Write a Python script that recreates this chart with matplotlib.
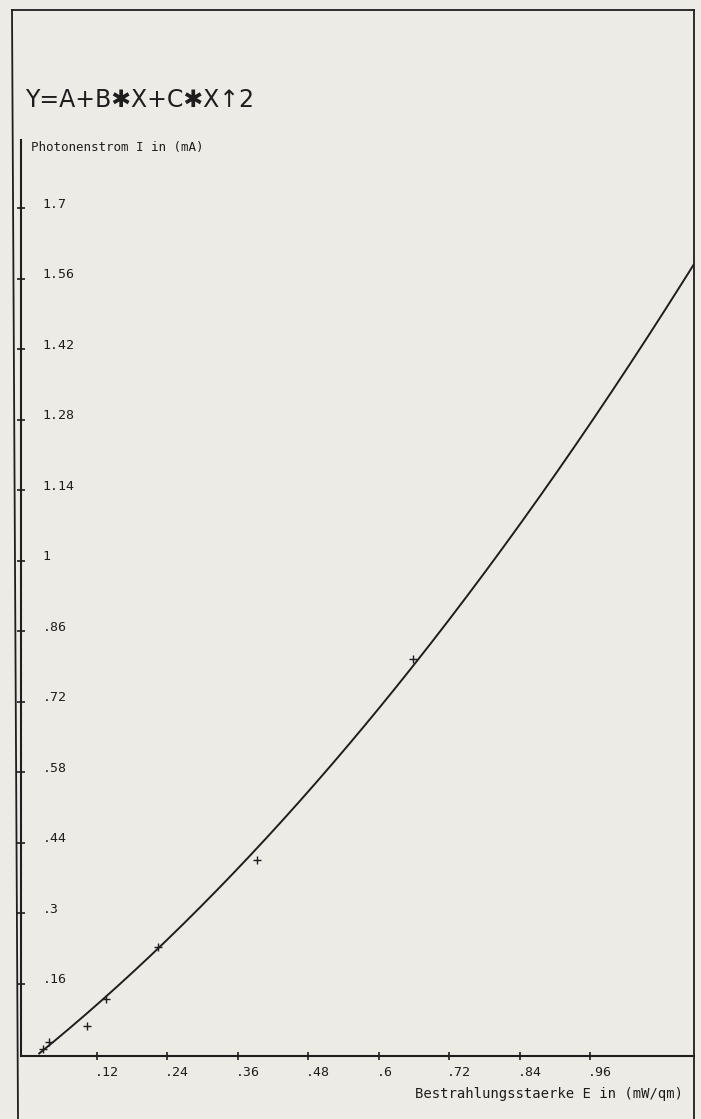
import numpy as np
import matplotlib.pyplot as plt
from matplotlib.lines import Line2D

# Messwerte: Bestrahlungsstaerke E (mW/qm) gegen Photonenstrom I (mA)
e_mess = [0.028, 0.038, 0.103, 0.135, 0.224, 0.393, 0.658]
i_mess = [0.031, 0.045, 0.077, 0.130, 0.233, 0.406, 0.806]

# Koeffizienten der Ausgleichsparabel Y = A + B*X + C*X^2
A = 0.0014
B = 0.9287
C = 0.4117
E_START = 0.022

x_ticks = [0.12, 0.24, 0.36, 0.48, 0.60, 0.72, 0.84, 0.96]
x_tick_labels = [".12", ".24", ".36", ".48", ".6", ".72", ".84", ".96"]
y_ticks = [0.16, 0.30, 0.44, 0.58, 0.72, 0.86, 1.00, 1.14, 1.28, 1.42, 1.56, 1.70]
y_tick_labels = [".16", ".3", ".44", ".58", ".72", ".86", "1", "1.14", "1.28", "1.42", "1.56", "1.7"]

PAPER = "#ecebe6"
INK = "#1e1e1e"
MONO = "DejaVu Sans Mono"

W, H = 701, 1119
fig = plt.figure(figsize=(W / 100, H / 100), dpi=100, facecolor=PAPER)

# Achsenbereich in Pixeln: links 21, rechts 694, unten 1056, oben 140
ax = fig.add_axes([21 / W, 1 - 1056 / H, (694 - 21) / W, (1056 - 140) / H])
ax.set_facecolor("none")
ax.set_xlim(-0.009, 1.137)
ax.set_ylim(0.017, 1.836)

for side in ["top", "right"]:
    ax.spines[side].set_visible(False)
for side in ["left", "bottom"]:
    ax.spines[side].set_color(INK)
    ax.spines[side].set_linewidth(1.5)

ax.set_xticks(x_ticks)
ax.set_yticks(y_ticks)
ax.tick_params(direction="inout", length=6, width=1.2, color=INK,
               labelleft=False, labelbottom=False)

for v, lbl in zip(y_ticks, y_tick_labels):
    ax.annotate(lbl, xy=(0, v), xycoords=("axes fraction", "data"),
                xytext=(15.5, 3), textcoords="offset points",
                ha="left", va="center", fontsize=9.5, family=MONO, color=INK)

for v, lbl in zip(x_ticks, x_tick_labels):
    ax.annotate(lbl, xy=(v, 0), xycoords=("data", "axes fraction"),
                xytext=(-1.5, -12), textcoords="offset points",
                ha="left", va="center", fontsize=9.5, family=MONO, color=INK)

# Ausgleichskurve
e = np.linspace(E_START, ax.get_xlim()[1], 400)
ax.plot(e, A + B * e + C * e ** 2, color=INK, lw=1.4)

# Messpunkte als Kreuze
ax.plot(e_mess, i_mess, ls="none", marker="+", ms=6, mew=1.0, color=INK)

# Rahmen des Plotterblatts
def px_line(x0, y0, x1, y1, lw=1.3):
    fig.add_artist(Line2D([x0 / W, x1 / W], [1 - y0 / H, 1 - y1 / H],
                          color=INK, lw=lw, transform=fig.transFigure))

px_line(12, 10, 694, 10)
px_line(694, 10, 694, H)
px_line(12, 10, 18, H)

fig.text(25 / W, 1 - 100 / H, "Y=A+B\u2731X+C\u2731X\u21912",
         fontsize=17, ha="left", va="center", color=INK)
fig.text(31 / W, 1 - 148 / H, "Photonenstrom I in (mA)",
         fontsize=9, family=MONO, ha="left", va="center", color=INK)
fig.text(683 / W, 1 - 1094 / H, "Bestrahlungsstaerke E in (mW/qm)",
         fontsize=10, family=MONO, ha="right", va="center", color=INK)

fig.savefig("out.png", dpi=100, facecolor=PAPER)
